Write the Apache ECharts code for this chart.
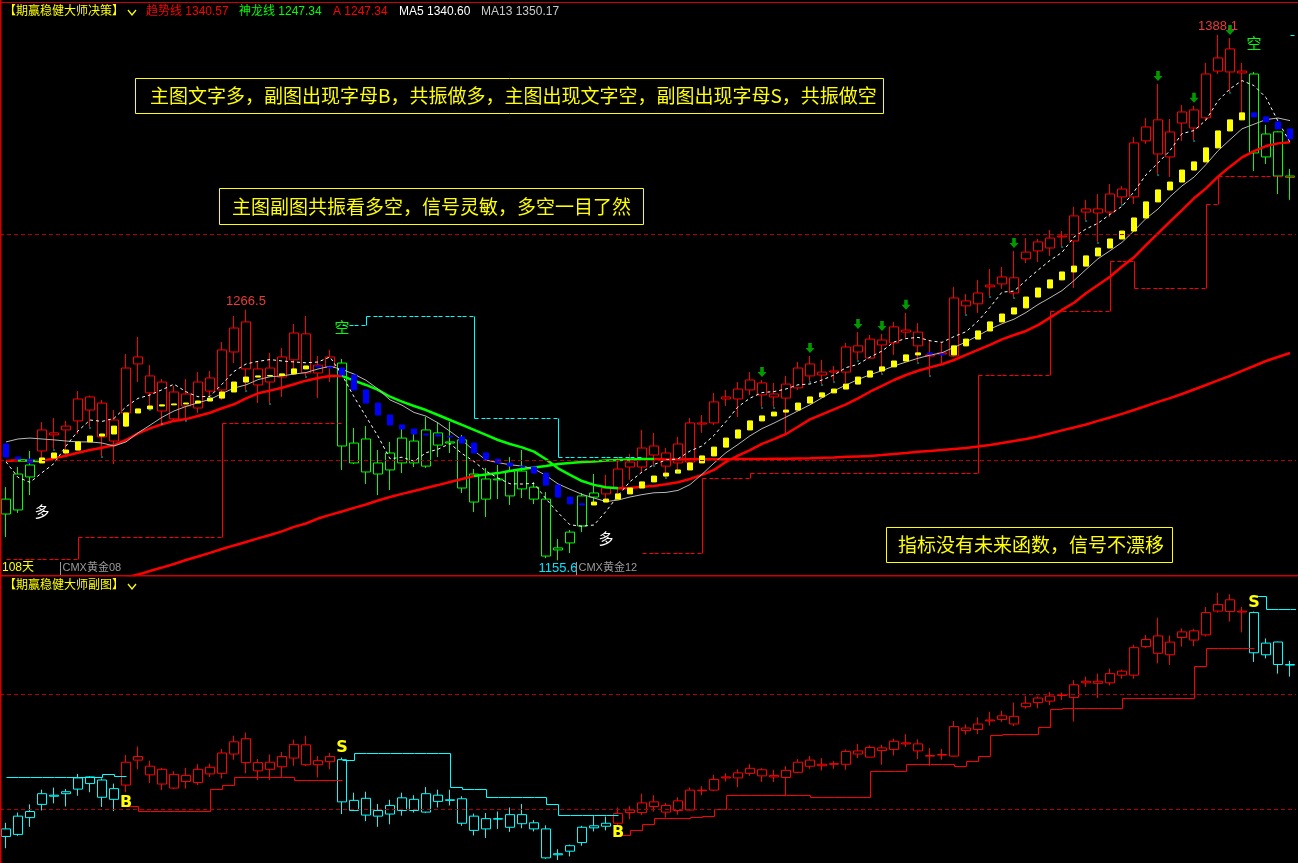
<!DOCTYPE html>
<html>
<head>
<meta charset="utf-8">
<title>期赢稳健大师决策</title>
<script src="https://cdn.jsdelivr.net/npm/echarts@6/dist/echarts.min.js"></script>
<style>
html,body{margin:0;padding:0;background:#000;overflow:hidden}
#chart{width:1298px;height:863px}
</style>
</head>
<body>
<div id="chart"></div>
<script>
// ---- daily bars, oldest first ----
const opens = [1182.7,1177.9,1192.5,1204.0,1212.0,1213.3,1217.3,1227.9,1225.2,1208.4,
 1220.8,1242.5,1237.2,1234.5,1218.2,1229.2,1223.0,1236.3,1231.0,1247.8,
 1261.1,1233.2,1240.7,1236.7,1244.3,1255.8,1238.5,1241.1,1242.9,1198.7,
 1209.3,1193.8,1203.1,1198.7,1208.4,1197.3,1212.0,1207.5,1208.9,1193.8,
 1182.7,1191.2,1184.1,1195.1,1188.0,1182.7,1160.2,1163.3,1170.8,1183.6,
 1185.0,1187.6,1196.9,1196.9,1206.2,1203.1,1207.1,1199.1,1215.9,1216.4,
 1227.0,1227.0,1231.0,1234.1,1229.2,1227.4,1231.9,1242.5,1238.9,1239.4,
 1238.9,1250.5,1245.1,1253.1,1251.8,1256.6,1256.6,1246.5,1246.9,1246.0,
 1270.4,1269.1,1277.4,1277.9,1280.6,1289.0,1292.5,1293.8,1299.1,1296.9,
 1311.1,1311.1,1309.7,1319.9,1316.4,1341.2,1350.5,1334.1,1349.1,1354.9,
 1351.4,1372.1,1381.9,1371.25,1370.8,1334.1,1345.2,1325.65];
const closes = [1176.1,1193.8,1197.8,1213.3,1211.1,1215.0,1227.0,1222.1,1210.2,1217.7,
 1240.7,1245.6,1229.7,1221.7,1230.1,1223.9,1234.5,1230.5,1248.7,1258.4,
 1240.3,1240.3,1234.5,1245.6,1256.2,1238.5,1242.0,1245.6,1206.2,1207.5,
 1194.7,1198.7,1195.6,1209.7,1198.7,1213.3,1206.6,1208.0,1187.6,1181.4,
 1191.6,1191.6,1195.1,1187.2,1182.7,1157.5,1161.1,1168.1,1184.1,1185.4,
 1187.6,1196.0,1199.1,1205.3,1202.2,1197.3,1198.7,1216.4,1216.4,1225.7,
 1227.9,1231.4,1235.4,1228.8,1227.9,1233.6,1240.7,1237.2,1237.6,1238.9,
 1250.0,1247.8,1253.5,1250.9,1258.9,1257.5,1250.5,1246.0,1247.4,1271.7,
 1268.2,1273.9,1276.6,1281.0,1273.9,1292.0,1296.5,1298.2,1298.7,1308.0,
 1309.7,1309.3,1317.7,1316.4,1340.3,1347.35,1335.4,1345.15,1354.0,1346.9,
 1370.8,1377.9,1371.7,1372.1,1335.85,1344.25,1325.65,1325.15];
const lows = [1165.9,1176.6,1184.5,1198.7,1204.9,1202.2,1211.5,1214.6,1201.8,1198.2,
 1214.6,1234.5,1222.6,1216.4,1217.3,1217.7,1220.8,1227.9,1226.6,1242.9,
 1231.0,1225.2,1225.2,1227.9,1237.6,1237.2,1227.4,1234.5,1195.6,1198.2,
 1189.4,1184.5,1186.7,1194.2,1196.9,1196.5,1201.3,1203.1,1185.4,1177.0,
 1174.8,1182.7,1180.1,1183.2,1180.5,1156.6,1155.6,1158.8,1168.1,1180.5,
 1181.4,1185.4,1191.2,1194.7,1197.8,1192.5,1195.1,1198.7,1212.0,1215.5,
 1223.9,1219.0,1228.8,1223.5,1223.5,1211.1,1231.0,1235.0,1233.6,1235.0,
 1234.1,1244.3,1245.1,1238.5,1246.5,1254.0,1243.4,1237.6,1242.9,1245.6,
 1264.6,1265.1,1272.6,1275.7,1272.1,1287.2,1287.6,1290.3,1294.7,1276.1,
 1306.2,1296.5,1307.5,1313.3,1313.3,1339.9,1326.6,1325.2,1341.2,1341.6,
 1350.0,1370.8,1362.9,1353.6,1327.9,1331.0,1317.7,1315.1];
const highs = [1188.0,1196.9,1204.0,1216.8,1218.6,1217.3,1230.5,1228.5,1226.6,1222.1,
 1246.9,1254.4,1242.0,1235.8,1232.8,1235.8,1238.9,1239.4,1252.2,1263.7,
 1266.5,1243.4,1247.4,1249.6,1260.2,1263.7,1246.0,1248.7,1244.7,1214.2,
 1215.0,1204.4,1208.0,1214.2,1212.0,1219.0,1216.8,1216.8,1211.1,1196.0,
 1196.5,1197.8,1201.3,1204.4,1190.3,1185.8,1165.0,1169.0,1185.4,1193.8,
 1193.4,1201.3,1202.7,1213.3,1212.0,1205.3,1210.2,1218.6,1219.9,1229.7,
 1231.0,1234.5,1238.9,1235.4,1234.1,1237.2,1243.4,1246.0,1244.3,1241.6,
 1251.8,1256.6,1255.3,1255.8,1261.1,1265.1,1260.6,1253.1,1252.2,1276.6,
 1273.5,1279.7,1284.5,1285.4,1292.5,1298.2,1297.8,1301.8,1301.3,1312.0,
 1315.1,1317.7,1322.1,1321.2,1342.9,1351.4,1366.4,1350.9,1357.1,1356.7,
 1375.7,1388.1,1386.7,1375.7,1371.7,1348.3,1345.6,1328.8];

// ladder level: first entry is the level carried in, then one per bar
const ladder = [1207.1,
 1201.3,1200.4,1198.7,1200.9,1203.1,1204.4,1208.0,1210.6,1211.5,1215.0,
 1220.8,1222.6,1223.9,1224.4,1224.8,1225.2,1226.1,1227.4,1230.1,1234.5,
 1236.7,1237.2,1237.4,1238.1,1240.3,1241.6,1241.2,1240.7,1237.6,1231.0,
 1225.2,1219.9,1215.5,1213.7,1211.5,1211.1,1210.6,1210.2,1207.5,1203.1,
 1200.4,1198.7,1197.3,1196.9,1194.2,1188.9,1183.6,1180.6,1180.1,1181.4,
 1182.7,1185.0,1187.6,1190.3,1192.9,1194.2,1195.6,1198.7,1201.8,1205.7,
 1209.7,1213.3,1217.3,1219.5,1221.2,1222.1,1225.2,1227.9,1229.7,1231.4,
 1233.6,1236.7,1239.4,1241.2,1243.8,1246.5,1247.4,1246.9,1246.5,1250.5,
 1253.5,1257.1,1261.1,1264.6,1267.3,1272.1,1276.1,1279.7,1283.2,1285.8,
 1290.3,1293.8,1297.8,1301.3,1307.1,1314.2,1319.5,1323.0,1328.3,1331.9,
 1338.1,1345.6,1350.5,1353.6,1351.8,1349.6,1346.5,1342.1];

// 趋势线
const trendLine = [1199.6,1199.9,1199.7,1199.5,1200.75,1201.9,1203.2,1204.4,1205.45,1206.6,
 1208.85,1211.8,1214.0,1215.8,1217.3,1218.1,1219.5,1220.9,1222.9,1224.65,
 1227.3,1229.5,1230.7,1232.0,1233.5,1235.1,1236.3,1237.2,1237.25,1235.1,
 1233.2,1231.0,1228.0,1225.8,1223.9,1222.1,1219.9,1217.7,1215.5,1213.3,
 1211.1,1208.85,1207.1,1205.6,1203.7,1200.3,1196.3,1193.4,1190.7,1189.0,
 1187.9,1187.5,1187.6,1188.2,1188.5,1189.3,1190.15,1191.6,1193.4,1195.6,
 1199.2,1201.9,1204.4,1207.1,1209.2,1211.5,1214.7,1218.0,1220.2,1222.4,
 1224.65,1227.3,1230.2,1232.75,1235.4,1237.6,1239.5,1241.0,1242.35,1244.25,
 1246.5,1248.7,1250.9,1253.4,1255.3,1257.1,1259.7,1263.0,1266.4,1269.6,
 1273.8,1277.4,1281.1,1285.6,1289.7,1295.1,1300.3,1305.45,1310.6,1315.8,
 1320.2,1325.4,1329.8,1333.9,1336.7,1338.9,1340.1,1340.57];

// 神龙线 (below the visible range before bar 10)
const dragonLine = [null,null,null,null,null,null,null,null,null,null,
 1148.0,1149.3,1150.9,1152.4,1154.0,1155.75,1157.3,1158.9,1160.6,1162.2,
 1163.7,1165.3,1166.8,1168.4,1170.4,1171.9,1174.1,1175.7,1177.2,1178.8,
 1180.3,1182.1,1183.6,1185.0,1186.3,1187.6,1188.9,1190.3,1191.6,1192.9,
 1193.6,1194.2,1195.1,1196.0,1196.7,1197.3,1198.2,1198.7,1199.1,1199.3,
 1199.8,1200.0,1200.2,1200.4,1200.4,1200.2,1200.2,1200.3,1200.3,1200.3,
 1200.3,1200.4,1200.4,1200.4,1200.5,1200.6,1200.7,1200.8,1201.0,1201.1,
 1201.4,1201.6,1201.8,1202.2,1202.7,1203.1,1203.6,1204.0,1204.4,1204.9,
 1205.3,1206.0,1206.6,1207.5,1208.4,1209.3,1210.4,1211.7,1213.1,1214.4,
 1215.7,1217.3,1218.8,1220.4,1222.1,1223.9,1225.7,1227.4,1229.2,1231.2,
 1233.2,1235.2,1237.2,1239.4,1241.6,1243.8,1245.6,1247.34];
const dragonGreenSpan = [39, 54];

// moving-average values carried in from before the first bar
const ma5Lead = [1199.2, 1192.3, 1190.1, 1194.4];
const ma13Lead = [1208.0, 1209.3, 1209.7, 1209.3, 1208.9, 1208.4, 1208.0, 1208.0, 1207.5, 1206.2, 1208.0, 1212.0];

// signals: bar index, text, price where the text sits
const mainSignals = [
  { i: 3, text: '多', at: 1177.4 },
  { i: 28, text: '空', at: 1258.9 },
  { i: 50, text: '多', at: 1165.5 },
  { i: 104, text: '空', at: 1384.5 }
];
const subSignals = [
  { i: 10, text: 'B', at: 1205.2 },
  { i: 28, text: 'S', at: 1253.0 },
  { i: 51, text: 'B', at: 1179.1 },
  { i: 104, text: 'S', at: 1379.1 }
];

const arrowBars = [63, 67, 71, 73, 75, 84, 96, 99, 102];
const extremeMarks = [{ i: 20, kind: 'high' }, { i: 46, kind: 'low' }, { i: 101, kind: 'high' }];
const contractMarks = [{ i: 5, text: 'CMX黄金08' }, { i: 48, text: 'CMX黄金12' }];

// stop levels as runs: [firstBar, lastBar, level]
const mainLongStop = [[0,5,1156.05],[6,17,1165.8],[18,27,1216.2],[53,57,1158.7],[58,61,1191.9],[62,80,1194.1],
 [81,86,1237.6],[87,91,1265.9],[92,93,1288.05],[94,99,1275.9],[100,100,1313.1],[101,107,1325.65]];
const mainShortStop = [[28,29,1259.6],[30,38,1263.7],[39,45,1218.45],[46,52,1201.2],[107,107,1388.1]];
const subLongStop = [[10,10,1202.9],[11,16,1198.5],[17,17,1217.1],[18,18,1220.6],[19,23,1227.6],[24,27,1225.2],
 [51,51,1177.4],[52,52,1181.7],[53,53,1186.7],[54,56,1191.9],[57,57,1192.8],[58,58,1193.9],[59,59,1199.7],
 [60,66,1211.9],[67,71,1210.7],[72,74,1232.8],[75,78,1238.9],[79,79,1237.1],[80,80,1241.5],[81,81,1246.1],
 [82,82,1264.1],[83,85,1265.0],[86,86,1271.0],[87,87,1286.7],[88,92,1287.6],[93,98,1296.3],[99,99,1324.1],[100,103,1339.7]];
const subShortStop = [[0,7,1227.8],[8,8,1230.2],[9,9,1228.4],[28,28,1242.3],[29,36,1248.4],[37,37,1218.9],
 [38,38,1217.7],[39,39,1217.1],[40,44,1210.7],[45,45,1204.1],[46,50,1194.5],[104,104,1385.2],[105,107,1373.7]];

const guideLevels = [1200, 1300];

const notes = [
  '主图文字多，副图出现字母B，共振做多，主图出现文字空，副图出现字母S，共振做空',
  '主图副图共振看多空，信号灵敏，多空一目了然',
  '指标没有未来函数，信号不漂移'
];

// ---------------------------------------------------------------
const n = opens.length;
const days = opens.map((_, i) => 'D' + (i + 1));
const RED = '#ff0000', GREEN = '#00ff00', CYAN = '#00ffff', YELLOW = '#ffff00', BLUE = '#0000ff';
const FONT = '"Liberation Sans","Noto Sans CJK SC",sans-serif';
const CJK = '"Noto Sans CJK SC",sans-serif';

function regimeFlags(signals, upText) {
  const flags = [];
  let up = false, s = 0;
  const sorted = signals.slice().sort((a, b) => a.i - b.i);
  for (let i = 0; i < n; i++) {
    while (s < sorted.length && sorted[s].i === i) { up = sorted[s].text === upText; s++; }
    flags.push(up);
  }
  return flags;
}
const mainUp = regimeFlags(mainSignals, '多');
const subUp = regimeFlags(subSignals, 'B');

function movingAverage(period, lead) {
  return closes.map((c, i) => {
    if (i < period - 1) return lead[i];
    let s = 0;
    for (let k = i - period + 1; k <= i; k++) s += closes[k];
    return s / period;
  });
}
const ma5 = movingAverage(5, ma5Lead);
const ma13 = movingAverage(13, ma13Lead);

function expandRuns(runs) {
  const out = new Array(n).fill(null);
  runs.forEach(([a, b, v]) => { for (let i = a; i <= b; i++) out[i] = v; });
  return out;
}

function barStyle(c) {
  return { color: 'transparent', color0: c, borderColor: c, borderColor0: c, borderColorDoji: c, borderWidth: 1 };
}
const mainBars = opens.map((o, i) => ({ value: [o, closes[i], lows[i], highs[i]], itemStyle: barStyle(mainUp[i] ? RED : GREEN) }));
const subBars = opens.map((o, i) => ({ value: [o, closes[i], lows[i], highs[i]], itemStyle: barStyle(subUp[i] ? RED : CYAN) }));
const ladderBars = opens.map((_, i) => {
  const a = ladder[i], b = ladder[i + 1];
  return [a, b, Math.min(a, b), Math.max(a, b)];
});

// colour pieces for a line that is red while rising and green while falling
function slopePieces(vals, rise, fall) {
  const segs = [];
  for (let k = 1; k < vals.length; k++) segs.push(vals[k] > vals[k - 1] ? rise : fall);
  const runs = [];
  let start = 0;
  for (let k = 1; k <= segs.length; k++) {
    if (k === segs.length || segs[k] !== segs[start]) { runs.push({ lo: start, hi: k, color: segs[start] }); start = k; }
  }
  return runs.map((r, idx) => {
    const p = { color: r.color };
    if (idx > 0) p.gt = r.lo;
    if (idx < runs.length - 1) p.lte = r.hi;
    return p;
  });
}
const trendPieces = slopePieces(trendLine, RED, GREEN);
const dragonPieces = [
  { lt: dragonGreenSpan[0], color: RED },
  { gte: dragonGreenSpan[0], lte: dragonGreenSpan[1], color: GREEN },
  { gt: dragonGreenSpan[1], color: RED }
];

function stepSeries(runs, color, dashed, axis) {
  const levels = expandRuns(runs);
  const pts = [];
  levels.forEach((v, i) => { if (v != null) pts.push([i, v]); });
  return {
    type: 'custom', xAxisIndex: axis, yAxisIndex: axis, z: 3, silent: true, clip: true,
    data: pts, encode: { x: 0, y: 1 },
    renderItem(params, api) {
      const i = api.value(0), v = api.value(1);
      const p = api.coord([i, v]);
      const w = api.size([1, 0])[0];
      const x0 = Math.round(p[0]) + 0.5, y = Math.round(p[1]) + 0.5;
      const kids = [{ type: 'line', shape: { x1: x0, y1: y, x2: x0 + w, y2: y },
        style: { stroke: color, lineWidth: 1, lineDash: dashed ? [4, 3] : null } }];
      const pv = i > 0 ? levels[i - 1] : null;
      if (pv != null && pv !== v) {
        const q = api.coord([i, pv]);
        kids.push({ type: 'line', shape: { x1: x0, y1: Math.round(q[1]) + 0.5, x2: x0, y2: y },
          style: { stroke: color, lineWidth: 1 } });
      }
      return { type: 'group', children: kids };
    }
  };
}

function textSeries(items, axis) {
  return {
    type: 'custom', xAxisIndex: axis, yAxisIndex: axis, z: 8, silent: true, clip: false,
    data: items.map(t => [t.i, t.at]), encode: { x: 0, y: 1 },
    renderItem(params, api) {
      const t = items[params.dataIndex];
      const p = api.coord([api.value(0), api.value(1)]);
      return { type: 'text', x: p[0], y: p[1] + (t.dy || 0),
        style: { text: t.text, fill: t.color, font: t.font, align: 'center', verticalAlign: 'middle' } };
    }
  };
}

const mainTexts = mainSignals.map(s => ({
  i: s.i, at: s.at, text: s.text, color: s.text === '多' ? '#ffffff' : GREEN, font: '15px ' + CJK
})).concat(extremeMarks.map(m => {
  const v = m.kind === 'high' ? highs[m.i] : lows[m.i];
  return { i: m.i, at: v, text: v.toFixed(1), color: m.kind === 'high' ? '#e83c3c' : '#00e5ff',
    font: '13px ' + FONT, dy: m.kind === 'high' ? -8 : 8 };
}));
const subTexts = subSignals.map(s => ({ i: s.i, at: s.at, text: s.text, color: YELLOW, font: 'bold 16px "DejaVu Sans",sans-serif' }));

const wickDots = [];
opens.forEach((o, i) => { if (mainUp[i] && closes[i] < o) wickDots.push([i, lows[i]]); });

const guideMarks = {
  silent: true, symbol: 'none', animation: false, label: { show: false },
  lineStyle: { color: '#b00000', type: [4, 3], width: 1 },
  data: guideLevels.map(v => ({ yAxis: v }))
};

const series = [];
series.push({ type: 'candlestick', xAxisIndex: 0, yAxisIndex: 0, data: mainBars, barWidth: 10, z: 2, silent: true, markLine: guideMarks });
const DRAGON = series.length;
series.push({ type: 'line', xAxisIndex: 0, yAxisIndex: 0, data: dragonLine, symbol: 'none', z: 3, silent: true,
  lineStyle: { width: 2.5 } });
const TREND = series.length;
series.push({ type: 'line', xAxisIndex: 0, yAxisIndex: 0, data: trendLine, symbol: 'none', z: 3, silent: true,
  lineStyle: { width: 2.5 } });
series.push({ type: 'line', xAxisIndex: 0, yAxisIndex: 0, data: ma13, symbol: 'none', z: 3, silent: true,
  lineStyle: { width: 1, color: '#b8b8b8' } });
series.push({ type: 'line', xAxisIndex: 0, yAxisIndex: 0, data: ma5, symbol: 'none', z: 3, silent: true,
  lineStyle: { width: 1, color: '#ffffff', type: [3, 3] } });
series.push(stepSeries(mainLongStop, RED, true, 0));
series.push(stepSeries(mainShortStop, CYAN, true, 0));
series.push({ type: 'candlestick', xAxisIndex: 0, yAxisIndex: 0, data: ladderBars, barWidth: 6, z: 4, silent: true,
  itemStyle: { color: YELLOW, color0: BLUE, borderColor: YELLOW, borderColor0: BLUE, borderColorDoji: YELLOW, borderWidth: 1 } });
series.push({ type: 'scatter', xAxisIndex: 0, yAxisIndex: 0, data: wickDots, symbol: 'rect', symbolSize: [1, 2],
  symbolOffset: [0, 1], itemStyle: { color: CYAN }, z: 4, silent: true });
series.push({ type: 'scatter', xAxisIndex: 0, yAxisIndex: 0, data: arrowBars.map(i => [i, highs[i]]),
  symbol: 'path://M3,0L7,0L7,5L10,5L5,10L0,5L3,5Z', symbolSize: [9, 10], symbolOffset: [0, -8],
  itemStyle: { color: '#00c000' }, z: 5, silent: true });
series.push(textSeries(mainTexts, 0));
series.push({
  type: 'custom', xAxisIndex: 0, yAxisIndex: 0, z: 8, silent: true, clip: false,
  data: contractMarks.map(c => [c.i, 1200]), encode: { x: 0, y: 1 },
  renderItem(params, api) {
    const c = contractMarks[params.dataIndex];
    const cs = params.coordSys;
    const x = Math.round(api.coord([api.value(0), api.value(1)])[0] - api.size([1, 0])[0] / 2) + 0.5;
    const yb = cs.y + cs.height;
    return { type: 'group', children: [
      { type: 'line', shape: { x1: x, y1: yb - 13, x2: x, y2: yb }, style: { stroke: '#9a9a9a', lineWidth: 1 } },
      { type: 'text', x: x + 2, y: yb - 7, style: { text: c.text, fill: '#9a9a9a', font: '11px ' + FONT, verticalAlign: 'middle' } }
    ] };
  }
});
// sub panel
series.push({ type: 'candlestick', xAxisIndex: 1, yAxisIndex: 1, data: subBars, barWidth: 10, z: 2, silent: true, markLine: guideMarks });
series.push(stepSeries(subLongStop, RED, false, 1));
series.push(stepSeries(subShortStop, CYAN, false, 1));
series.push(textSeries(subTexts, 1));

const fmt = v => v.toFixed(2);
const headerItems = [
  ['【期赢稳健大师决策】', YELLOW, 4],
  ['趋势线 ' + fmt(trendLine[n - 1]), RED, 146],
  ['神龙线 ' + fmt(dragonLine[n - 1]), GREEN, 239],
  ['A ' + fmt(dragonLine[n - 1]), RED, 333],
  ['MA5 ' + fmt(ma5[n - 1]), '#ffffff', 399],
  ['MA13 ' + fmt(ma13[n - 1]), '#c8c8c8', 481]
];

const graphics = [
  { type: 'rect', shape: { x: 0, y: 2, width: 1298, height: 1 }, style: { fill: '#d00000' }, z: 50 },
  { type: 'rect', shape: { x: 0, y: 0, width: 1.5, height: 863 }, style: { fill: '#d00000' }, z: 50 },
  { type: 'rect', shape: { x: 0, y: 575, width: 1298, height: 1.6 }, style: { fill: '#d00000' }, z: 50 },
  { type: 'polyline', shape: { points: [[128, 10], [132, 15], [136, 10]] }, style: { stroke: YELLOW, lineWidth: 1.3, fill: null }, z: 50 },
  { type: 'text', x: 4, y: 586, style: { text: '【期赢稳健大师副图】', fill: YELLOW, font: '12px ' + FONT, verticalAlign: 'middle' }, z: 50 },
  { type: 'polyline', shape: { points: [[128, 584], [132, 589], [136, 584]] }, style: { stroke: YELLOW, lineWidth: 1.3, fill: null }, z: 50 },
  { type: 'text', x: 2, y: 568, style: { text: n + '天', fill: YELLOW, font: '12px ' + FONT, verticalAlign: 'middle' }, z: 50 }
];
headerItems.forEach(([t, c, x]) => graphics.push({
  type: 'text', x: x, y: 12, style: { text: t, fill: c, font: '12px ' + FONT, verticalAlign: 'middle' }, z: 50
}));
const noteBoxes = [
  { rect: [135.5, 78.5, 748, 35], tx: 150, ty: 96 },
  { rect: [219.5, 188.5, 424, 36], tx: 232, ty: 206.5 },
  { rect: [886.5, 527.5, 286, 35], tx: 898, ty: 545 }
];
notes.forEach((t, k) => {
  const b = noteBoxes[k];
  graphics.push({ type: 'rect', shape: { x: b.rect[0], y: b.rect[1], width: b.rect[2], height: b.rect[3] },
    style: { fill: '#000', stroke: YELLOW, lineWidth: 1 }, z: 60 });
  graphics.push({ type: 'text', x: b.tx, y: b.ty, style: { text: t, fill: YELLOW, font: '19px ' + CJK, verticalAlign: 'middle' }, z: 61 });
});

const chart = echarts.init(document.getElementById('chart'), null, { renderer: 'canvas' });
chart.setOption({
  backgroundColor: '#000',
  animation: false,
  grid: [
    { left: 0, top: 20, width: 1296, height: 555 },
    { left: 0, top: 590, width: 1296, height: 273 }
  ],
  xAxis: [
    { type: 'category', gridIndex: 0, data: days, boundaryGap: true, show: false },
    { type: 'category', gridIndex: 1, data: days, boundaryGap: true, show: false }
  ],
  yAxis: [
    { type: 'value', gridIndex: 0, min: 1149.115, max: 1394.69, show: false, splitLine: { show: false } },
    { type: 'value', gridIndex: 1, min: 1153.04, max: 1390.43, show: false, splitLine: { show: false } }
  ],
  visualMap: [
    { type: 'piecewise', show: false, dimension: 0, seriesIndex: TREND, pieces: trendPieces },
    { type: 'piecewise', show: false, dimension: 0, seriesIndex: DRAGON, pieces: dragonPieces }
  ],
  series: series,
  graphic: graphics
});
</script>
</body>
</html>
